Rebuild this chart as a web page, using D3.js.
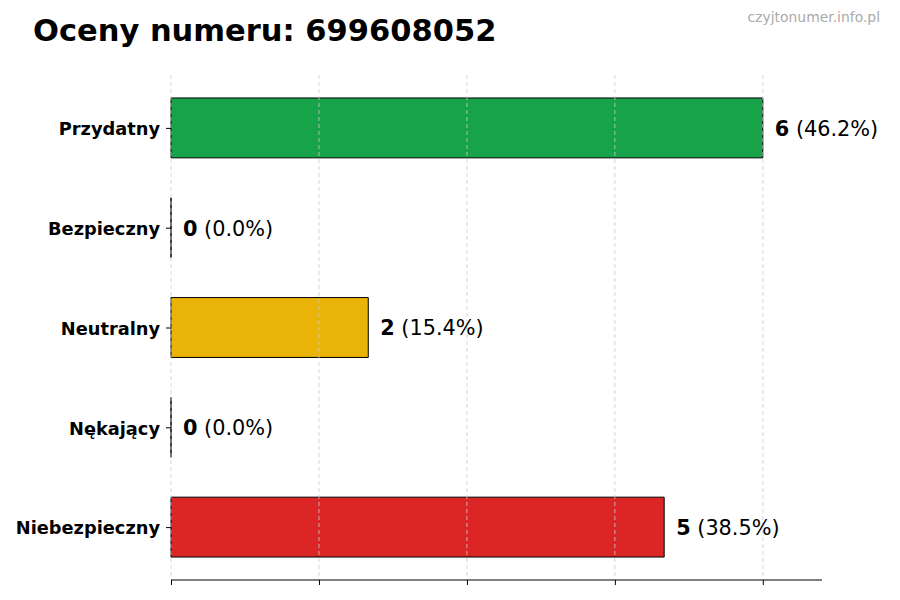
<!DOCTYPE html>
<html>
<head>
<meta charset="utf-8">
<script src="https://cdn.jsdelivr.net/npm/d3@7"></script>
<style>
  body { margin: 0; background: #fff; }
  text { font-family: "DejaVu Sans", sans-serif; }
</style>
</head>
<body>
<div id="chart"></div>
<script>
// chart values
const categories = ['Przydatny', 'Bezpieczny', 'Neutralny', 'Nękający', 'Niebezpieczny'];
const counts = [6, 0, 2, 0, 5];
const barColors = ['#16a34a', '#16a34a', '#eab308', '#888888', '#dc2626'];
const xTicks = [0, 1.5, 3, 4.5, 6];

const width = 900, height = 600;
const margin = {top: 75, right: 78, bottom: 20, left: 171};

const svg = d3.select('#chart').append('svg')
    .attr('width', width)
    .attr('height', height);

const total = d3.sum(counts);

const x = d3.scaleLinear()
    .domain([0, d3.max(counts) * 1.1])
    .range([margin.left, width - margin.right]);

// category index -> vertical position
const y = d3.scaleLinear()
    .domain([-0.53, categories.length - 1 + 0.53])
    .range([margin.top, height - margin.bottom]);

const barH = y(0.3) - y(0);

// bars drawn as paths so zero-length bars still show their edge
svg.append('g').selectAll('path')
    .data(counts)
    .join('path')
    .attr('d', (d, i) => {
        const x0 = x(0), x1 = x(d), y0 = y(i) - barH, y1 = y(i) + barH;
        return `M${x0},${y0}H${x1}V${y1}H${x0}Z`;
    })
    .attr('fill', (d, i) => barColors[i])
    .attr('stroke', '#000')
    .attr('stroke-width', 1);

// grid on top of bars
svg.append('g').selectAll('line')
    .data(xTicks)
    .join('line')
    .attr('x1', d => x(d)).attr('x2', d => x(d))
    .attr('y1', margin.top).attr('y2', height - margin.bottom)
    .attr('stroke', '#cccccc')
    .attr('stroke-width', 0.8)
    .attr('stroke-dasharray', '4,3');

// x axis: ticks without labels
const xAxis = svg.append('g')
    .attr('transform', `translate(0,${height - margin.bottom})`)
    .call(d3.axisBottom(x).tickValues(xTicks).tickFormat('').tickSizeOuter(0).tickSize(5));
xAxis.select('.domain').remove();
xAxis.append('line')
    .attr('x1', x.range()[0]).attr('x2', x.range()[1])
    .attr('stroke', '#000');

// y axis: ticks and bold labels, no spine
const yAxis = svg.append('g')
    .attr('transform', `translate(${margin.left},0)`)
    .call(d3.axisLeft(y).tickValues(d3.range(categories.length)).tickFormat(i => categories[i]).tickSize(5).tickPadding(6));
yAxis.select('.domain').remove();
yAxis.selectAll('text')
    .attr('font-size', 17.8)
    .attr('font-weight', 'bold')
    .attr('font-family', '"DejaVu Sans", sans-serif')
    .attr('fill', '#000')
    .attr('dy', '0.38em');

// value labels
const lbl = svg.append('g').selectAll('text')
    .data(counts)
    .join('text')
    .attr('x', d => x(d) + 12)
    .attr('y', (d, i) => y(i))
    .attr('dy', '0.38em')
    .attr('font-size', 20.8)
    .attr('fill', '#000');
lbl.append('tspan').attr('font-weight', 'bold').text(d => d);
lbl.append('tspan').text(d => ` (${(d / total * 100).toFixed(1)}%)`);

// title
svg.append('text')
    .attr('x', 33)
    .attr('y', 41)
    .attr('font-size', 30.5)
    .attr('font-weight', 'bold')
    .text('Oceny numeru: 699608052');

// watermark
svg.append('text')
    .attr('x', 880)
    .attr('y', 22)
    .attr('text-anchor', 'end')
    .attr('font-size', 13.9)
    .attr('fill', '#aaaaaa')
    .text('czyjtonumer.info.pl');
</script>
</body>
</html>
